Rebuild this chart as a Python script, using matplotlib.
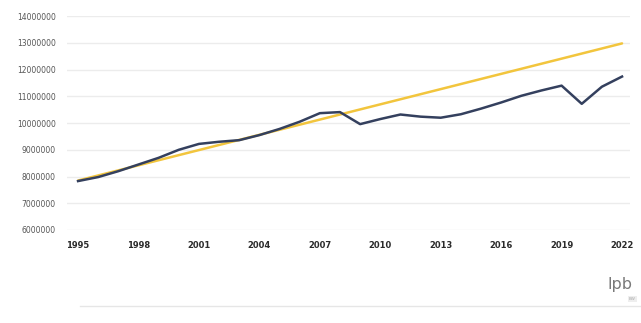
import matplotlib.pyplot as plt

# Jahre und Werte
years = list(range(1995, 2023))
actual = [7.83e6, 7.98e6, 8.2e6, 8.45e6, 8.7e6, 9.0e6, 9.22e6, 9.3e6, 9.36e6,
          9.55e6, 9.78e6, 10.05e6, 10.37e6, 10.41e6, 9.96e6, 10.15e6, 10.32e6,
          10.24e6, 10.2e6, 10.33e6, 10.54e6, 10.77e6, 11.02e6, 11.22e6, 11.4e6,
          10.72e6, 11.36e6, 11.74e6]
trend_years = [1995, 2022]
trend = [7.85e6, 12.98e6]

xticks = [1995, 1998, 2001, 2004, 2007, 2010, 2013, 2016, 2019, 2022]
yticks = list(range(6000000, 14000001, 1000000))

fig = plt.figure(figsize=(6.41, 3.23), dpi=100)
ax = fig.add_axes([0.1045, 0.288, 0.8785, 0.662])

ax.plot(trend_years, trend, color='#f2c53d', lw=1.8, solid_capstyle='round')
ax.plot(years, actual, color='#34405e', lw=1.8, solid_joinstyle='round')

ax.set_xlim(1994.45, 2022.4)
ax.set_ylim(6000000, 14000000)
ax.set_xticks(xticks)
ax.set_xticklabels([str(x) for x in xticks], fontsize=6, fontweight='bold', color='#2a2a2a')
ax.set_yticks(yticks)
ax.set_yticklabels([str(y) for y in yticks], fontsize=5.5, color='#555555')
ax.tick_params(length=0, pad=8)
ax.tick_params(axis='x', pad=8)
ax.grid(axis='y', color='#ececec', lw=1)
ax.set_axisbelow(True)
for s in ax.spines.values():
    s.set_visible(False)

# Logo und Trennlinie unten
fig.text(0.986, 0.105, 'lpb', ha='right', va='baseline', fontsize=11.5, color='#7a7a7a')
fig.text(0.992, 0.072, 'BW', ha='right', va='baseline', fontsize=3, color='#aaaaaa',
         bbox=dict(boxstyle='square,pad=0.2', fc='#eeeeee', ec='none'))
fig.add_artist(plt.Line2D([0.125, 1.0], [0.052, 0.052], color='#e6e6e6', lw=1))

fig.savefig('out.png', dpi=100)
